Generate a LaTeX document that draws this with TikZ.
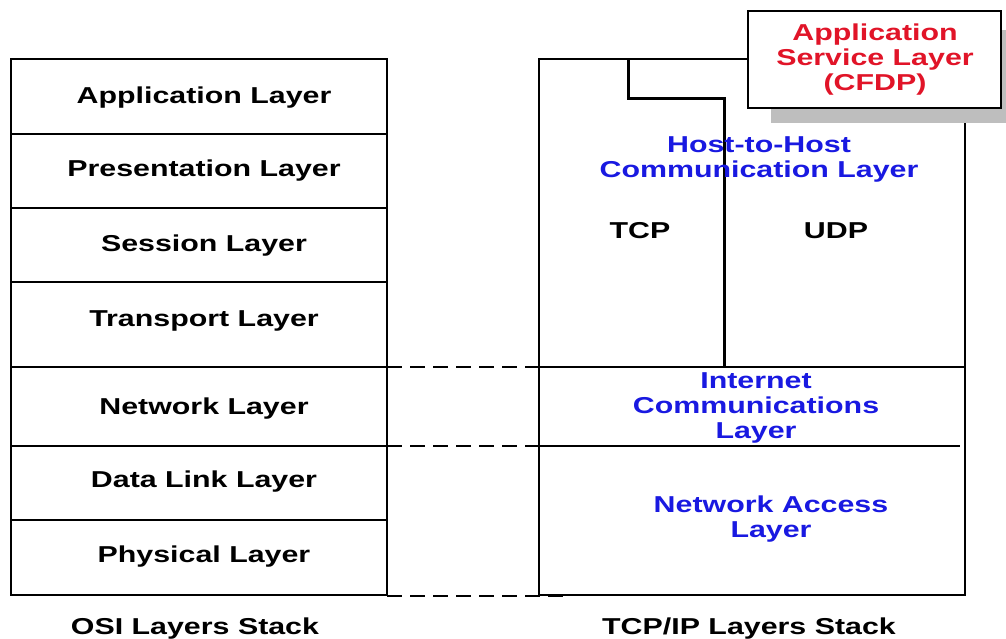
\documentclass[tikz,border=0pt]{standalone}
\usepackage{fontspec}
\setmainfont{Liberation Sans}[FakeStretch=1.32]
\definecolor{txtblue}{RGB}{25,25,225}
\definecolor{txtred}{RGB}{225,20,40}
\definecolor{shadowgray}{RGB}{190,190,190}
\begin{document}
\begin{tikzpicture}[x=1pt,y=-1pt,
  lbl/.style={font=\fontsize{23}{25}\selectfont\bfseries, inner sep=0pt, align=center},
  thin/.style={draw=black, line width=1.6pt},
  thick/.style={draw=black, line width=3pt},
  dashconn/.style={draw=black, line width=2.6pt, dash pattern=on 15pt off 8pt}]
\useasboundingbox (0,0) rectangle (1006,639);
\fill[white] (0,0) rectangle (1006,639);

% OSI stack
\draw[thin] (11,59) rectangle (387,595);
\foreach \yy in {134,208,282,367,446,520} \draw[thin] (11,\yy) -- (387,\yy);
\node[lbl, anchor=base] (osiapp) at (204,104) {Application Layer};
\node[lbl, anchor=base] (osipres) at (204,177) {Presentation Layer};
\node[lbl, anchor=base] (osises) at (204,251) {Session Layer};
\node[lbl, anchor=base] (ositrans) at (204,326) {Transport Layer};
\node[lbl, anchor=base] (osinet) at (204,414) {Network Layer};
\node[lbl, anchor=base] (osidl) at (204,487) {Data Link Layer};
\node[lbl, anchor=base] (osiphy) at (204,562) {Physical Layer};
\node[lbl, anchor=base] (osititle) at (195,634) {OSI Layers Stack};

% TCP/IP stack
\draw[thin] (539,59) rectangle (965,595);
\draw[thin] (539,367) -- (965,367);
\draw[thin] (539,446) -- (960,446);

% coordinates for dashed connectors
\coordinate (l1) at (387,367); \coordinate (r1) at (539,367);
\coordinate (l2) at (387,446); \coordinate (r2) at (539,446);
\coordinate (l3) at (387,596); \coordinate (r3) at (570,596);
\draw[dashconn] (l1) -- (r1);
\draw[dashconn] (l2) -- (r2);
\draw[dashconn] (l3) -- (r3);

% TCP/UDP divider
\coordinate (d0) at (628,59);
\coordinate (d1) at (628,99);
\coordinate (d2) at (724,99);
\coordinate (d3) at (724,367);
\draw[thick, line join=miter] (d0) -- (d1) -- (d2) -- (d3);

\node[lbl, text=txtblue] (h2h) at (759,159) {Host-to-Host\\Communication Layer};
\node[lbl, anchor=base] (tcp) at (640,238) {TCP};
\node[lbl, anchor=base] (udp) at (836,238) {UDP};
\node[lbl, text=txtblue] (inet) at (756,408) {Internet\\Communications\\Layer};
\node[lbl, text=txtblue] (nal) at (771,519) {Network Access\\Layer};
\node[lbl, anchor=base] (tcptitle) at (749,634) {TCP/IP Layers Stack};

% Application service layer box with shadow
\fill[shadowgray] (771,30) rectangle (1006,123);
\draw[thin, fill=white] (748,11) rectangle (1001,108);
\node[lbl, text=txtred] (asl) at (875,60) {Application\\Service Layer\\(CFDP)};
\end{tikzpicture}
\end{document}
